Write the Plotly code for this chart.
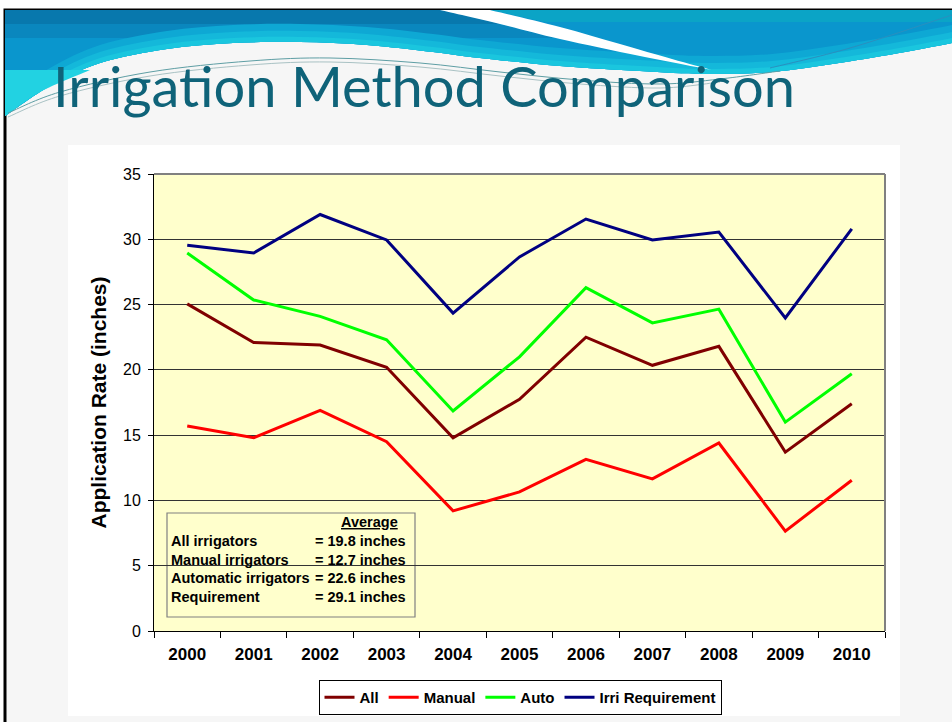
import plotly.graph_objects as go

years = ["2000", "2001", "2002", "2003", "2004", "2005", "2006", "2007", "2008", "2009", "2010"]
all_irr = [25.05, 22.1, 21.9, 20.2, 14.8, 17.75, 22.5, 20.35, 21.8, 13.7, 17.4]
manual = [15.7, 14.8, 16.9, 14.5, 9.2, 10.65, 13.15, 11.65, 14.4, 7.65, 11.55]
auto = [28.95, 25.35, 24.1, 22.3, 16.85, 21.0, 26.3, 23.6, 24.65, 16.0, 19.7]
irri_req = [29.55, 28.95, 31.9, 29.95, 24.35, 28.65, 31.55, 29.95, 30.55, 23.97, 30.8]

series_names = ["All", "Manual", "Auto", "Irri Requirement"]
series_colors = ["#800000", "#FF0000", "#00FF00", "#000080"]

avg_labels = ["All irrigators", "Manual irrigators", "Automatic irrigators", "Requirement"]
avg_values = ["= 19.8 inches", "= 12.7 inches", "= 22.6 inches", "= 29.1 inches"]

W, H = 952, 722
L, R, T, B = 154, 885, 174, 631
FONT = "Liberation Sans"


def px(x):
    return (x - L) / (R - L)


def py(y):
    return (B - y) / (B - T)


def pt(p):
    return f"{px(p[0]):.5f},{py(p[1]):.5f}"


def smooth(points, start=True):
    """Catmull-Rom through pixel points -> SVG path segment (paper coords)."""
    segs = []
    if start:
        segs.append("M " + pt(points[0]))
    n = len(points)
    for i in range(n - 1):
        p0 = points[i - 1] if i > 0 else points[i]
        p1 = points[i]
        p2 = points[i + 1]
        p3 = points[i + 2] if i + 2 < n else points[i + 1]
        c1 = (p1[0] + (p2[0] - p0[0]) / 6, p1[1] + (p2[1] - p0[1]) / 6)
        c2 = (p2[0] - (p3[0] - p1[0]) / 6, p2[1] - (p3[1] - p1[1]) / 6)
        segs.append("C " + pt(c1) + " " + pt(c2) + " " + pt(p2))
    return " ".join(segs)


def poly(points):
    return "M " + " L ".join(pt(p) for p in points) + " Z"


def rect(x0, y0, x1, y1, fill, line=None, lw=0, layer="below"):
    return dict(type="rect", xref="paper", yref="paper",
                x0=px(x0), x1=px(x1), y0=py(y1), y1=py(y0),
                fillcolor=fill, line=dict(color=line or fill, width=lw), layer=layer)


def pshape(p, fill=None, line=None, lw=0):
    d = dict(type="path", xref="paper", yref="paper", layer="below", path=p)
    if fill:
        d["fillcolor"] = fill
    d["line"] = dict(color=line or "rgba(0,0,0,0)", width=lw)
    return d


fig = go.Figure()
for name, vals, col in zip(series_names, [all_irr, manual, auto, irri_req], series_colors):
    fig.add_trace(go.Scatter(x=years, y=vals, mode="lines", name=name,
                             line=dict(color=col, width=3)))

shapes = []
# slide background and border
shapes.append(rect(5, 10, 990, 760, "#f6f6f6", "#000000", 3))

# header wave (decorative)
edge = [(5, 116), (50, 86), (100, 63), (167, 49), (233, 43), (300, 42), (367, 45), (433, 52),
        (480, 58), (560, 66), (640, 71), (705, 74), (772, 72), (839, 63), (905, 52), (952, 43), (975, 38)]
edge_r = list(reversed(edge))
main = "M " + pt((5, 10)) + " L " + pt((975, 10)) + " L " + pt(edge_r[0]) + " " + smooth(edge_r, start=False) + " Z"
shapes.append(pshape(main, "#0a96cd"))
# darker top-left bands ending at the stripe
shapes.append(pshape(poly([(5, 10), (445, 10), (500, 24), (555, 38), (5, 38)]), "#0a87be"))
shapes.append(pshape(poly([(5, 10), (445, 10), (500, 24), (5, 24)]), "#0878ad"))
# teal top-right band starting at the stripe
shapes.append(pshape(poly([(490, 10), (975, 10), (975, 22), (545, 22)]), "#0ba4c6"))
# cyan bands along the lower edge
for d, col in [(18, "#0ea8d4"), (11, "#14b8da"), (5, "#1ac6de")]:
    up = [(x, y - d) for x, y in edge]
    band = smooth(edge) + " L " + pt(up[-1]) + " " + smooth(list(reversed(up)), start=False) + " Z"
    shapes.append(pshape(band, col))
# bright cyan corner bottom-left
corner = smooth([(5, 116), (40, 92), (90, 70)]) + " L " + pt((5, 70)) + " Z"
shapes.append(pshape(corner, "#22d2e2"))
# white stripe
upper = [(490, 10), (560, 27), (620, 44), (672, 59), (712, 70)]
lower = [(712, 70), (640, 56), (560, 39), (500, 24), (440, 10)]
stripe = smooth(upper) + " " + smooth(lower, start=False) + " Z"
shapes.append(pshape(stripe, "#ffffff"))
# thin decorative lines
line1 = [(8, 113), (60, 92), (150, 72), (250, 61), (330, 58), (420, 63), (500, 72), (580, 80), (660, 84), (720, 79), (780, 71)]
line2 = [(8, 117), (60, 96), (150, 76), (250, 65), (330, 62), (420, 67), (500, 76), (580, 84), (660, 88), (720, 82)]
shapes.append(pshape(smooth(line1), line="#5e9ea4", lw=1))
shapes.append(pshape(smooth(line2), line="#a9c2c4", lw=1))
shapes.append(pshape(smooth([(770, 68), (850, 48), (952, 15)]), line="#2a8fbf", lw=1))

# chart panel and plot area
shapes.append(rect(68, 145, 900, 716, "#ffffff"))
shapes.append(rect(L, T, R, B, "#FFFFCC"))
# gray top and right border of plot area
shapes.append(dict(type="line", xref="paper", yref="paper", x0=0, x1=1, y0=1, y1=1,
                   line=dict(color="#808080", width=2), layer="above"))
shapes.append(dict(type="line", xref="paper", yref="paper", x0=1, x1=1, y0=0, y1=1,
                   line=dict(color="#808080", width=2), layer="above"))
# averages box
shapes.append(rect(167, 513, 415, 617, "#FFFFCC", "#808080", 1.2, layer="between"))

annotations = []
annotations.append(dict(xref="paper", yref="paper", x=px(51), y=py(85), xanchor="left", yanchor="middle",
                        text="Irrigation Method Comparison", showarrow=False,
                        font=dict(family="Lato", size=56, color="#0f6379")))
annotations.append(dict(xref="paper", yref="paper", x=px(400), y=py(522), xanchor="right", yanchor="middle",
                        text="<u>Average</u>", showarrow=False,
                        font=dict(family=FONT, size=14.5, color="#000000", weight="bold")))
row_y = [541, 559.5, 578, 597]
for lab, val, yy in zip(avg_labels, avg_values, row_y):
    annotations.append(dict(xref="paper", yref="paper", x=px(169), y=py(yy), xanchor="left", yanchor="middle",
                            text=lab, showarrow=False,
                            font=dict(family=FONT, size=14.5, color="#000000", weight="bold")))
    annotations.append(dict(xref="paper", yref="paper", x=px(408), y=py(yy), xanchor="right", yanchor="middle",
                            text=val, showarrow=False,
                            font=dict(family=FONT, size=14.5, color="#000000", weight="bold")))

fig.update_layout(
    width=W, height=H, autosize=False,
    margin=dict(l=L, r=W - R, t=T, b=H - B, pad=0, autoexpand=False),
    paper_bgcolor="#ffffff", plot_bgcolor="rgba(0,0,0,0)",
    shapes=shapes, annotations=annotations,
    showlegend=True,
    legend=dict(orientation="h", x=px(520), xanchor="center", y=py(680), yanchor="top",
                bgcolor="#ffffff", bordercolor="#000000", borderwidth=1,
                font=dict(family=FONT, size=15, color="#000000", weight="bold"),
                itemwidth=30, tracegroupgap=0),
    xaxis=dict(type="category", categoryorder="array", categoryarray=years, range=[-0.5, 10.5],
               tickson="boundaries", ticks="outside", ticklen=6, tickcolor="#000000",
               showgrid=False, showline=True, linecolor="#000000", linewidth=1,
               tickfont=dict(family=FONT, size=17, color="#000000", weight="bold"),
               ticklabelstandoff=8, zeroline=False),
    yaxis=dict(range=[0, 35], dtick=5, ticks="outside", ticklen=5, tickcolor="#000000",
               showline=True, linecolor="#000000", linewidth=1,
               showgrid=True, gridcolor="#333333", gridwidth=1, zeroline=False,
               tickfont=dict(family=FONT, size=16, color="#000000"),
               ticklabelstandoff=4,
               title=dict(text="Application Rate (inches)", standoff=10,
                          font=dict(family=FONT, size=21, color="#000000", weight="bold"))),
)

fig.write_html("out.html", config={"displayModeBar": False},
               post_script="document.body.style.margin='0px';document.body.style.overflow='hidden';")
